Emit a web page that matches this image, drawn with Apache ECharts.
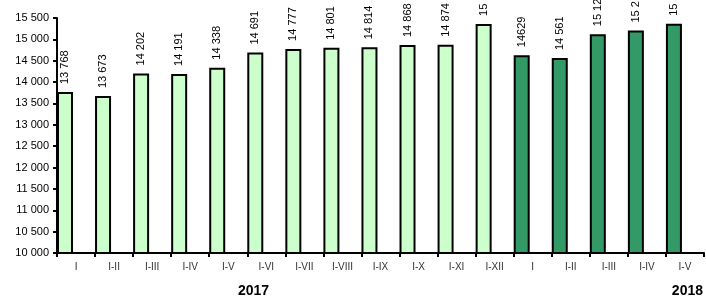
<!DOCTYPE html>
<html>
<head>
<meta charset="utf-8">
<script src="https://cdn.jsdelivr.net/npm/echarts@6/dist/echarts.min.js"></script>
<style>
  html, body { margin: 0; padding: 0; background: #fff; }
  #chart { width: 706px; height: 298px; }
</style>
</head>
<body>
<div id="chart"></div>
<script>
// months (cumulative periods)
var categories = ['I', 'I-II', 'I-III', 'I-IV', 'I-V', 'I-VI', 'I-VII', 'I-VIII', 'I-IX', 'I-X', 'I-XI', 'I-XII',
                  'I', 'I-II', 'I-III', 'I-IV', 'I-V'];
var values2017 = [13768, 13673, 14202, 14191, 14338, 14691, 14777, 14801, 14814, 14868, 14874, 15360,
                  '-', '-', '-', '-', '-'];
var values2018 = ['-', '-', '-', '-', '-', '-', '-', '-', '-', '-', '-', '-',
                  14629, 14561, 15120, 15205, 15365];
// label text as printed on the picture (some are cut off)
var labelTexts = ['13 768', '13 673', '14 202', '14 191', '14 338', '14 691', '14 777', '14 801', '14 814', '14 868', '14 874', '15',
                  '14629', '14 561', '15 12', '15 2', '15'];
var years = ['2017', '2018'];

var myChart = echarts.init(document.getElementById('chart'));

function fmtTick(v) {
    return String(v).replace(/\B(?=(\d{3})+(?!\d))/g, ' ');
}

var barLabel = {
    show: true,
    position: 'top',
    rotate: 90,
    align: 'left',
    verticalAlign: 'middle',
    distance: 8,
    fontFamily: 'Liberation Sans, Arial, sans-serif',
    fontSize: 11,
    color: '#000',
    formatter: function (p) { return labelTexts[p.dataIndex]; }
};

var option = {
    animation: false,
    grid: { left: 57, right: 2, top: 18, bottom: 45 },
    xAxis: {
        type: 'category',
        data: categories,
        axisLine: { lineStyle: { color: '#000', width: 2 } },
        axisTick: { show: true, length: 4, lineStyle: { color: '#000', width: 2 } },
        axisLabel: {
            margin: 9,
            fontFamily: 'Liberation Sans, Arial, sans-serif',
            fontSize: 10,
            color: '#333',
            interval: 0
        }
    },
    yAxis: {
        type: 'value',
        min: 10000,
        max: 15500,
        interval: 500,
        splitLine: { show: false },
        axisLine: { show: true, lineStyle: { color: '#000', width: 2 } },
        axisTick: { show: true, length: 4, lineStyle: { color: '#000', width: 2 } },
        axisLabel: {
            margin: 8,
            fontFamily: 'Liberation Sans, Arial, sans-serif',
            fontSize: 11,
            color: '#000',
            formatter: fmtTick
        }
    },
    series: [
        {
            name: '2017',
            type: 'bar',
            stack: 'v',
            data: values2017,
            barWidth: 16,
            barGap: '38%',
            itemStyle: { color: '#CCFFCC', borderColor: '#000', borderWidth: 2 },
            label: barLabel
        },
        {
            name: '2018',
            type: 'bar',
            stack: 'v',
            data: values2018,
            barWidth: 16,
            itemStyle: { color: '#339966', borderColor: '#000', borderWidth: 2 },
            label: barLabel
        },
        {
            // empty slot so bars sit at the left of each category, like the original
            name: 'empty',
            type: 'bar',
            data: [],
            barWidth: 16
        }
    ],
    graphic: [
        {
            type: 'text', left: 238, top: 284,
            style: { text: years[0], font: 'bold 14px Liberation Sans, Arial, sans-serif', fill: '#000' }
        },
        {
            type: 'text', right: 3, top: 284,
            style: { text: years[1], font: 'bold 14px Liberation Sans, Arial, sans-serif', fill: '#000' }
        }
    ]
};

myChart.setOption(option);
</script>
</body>
</html>
